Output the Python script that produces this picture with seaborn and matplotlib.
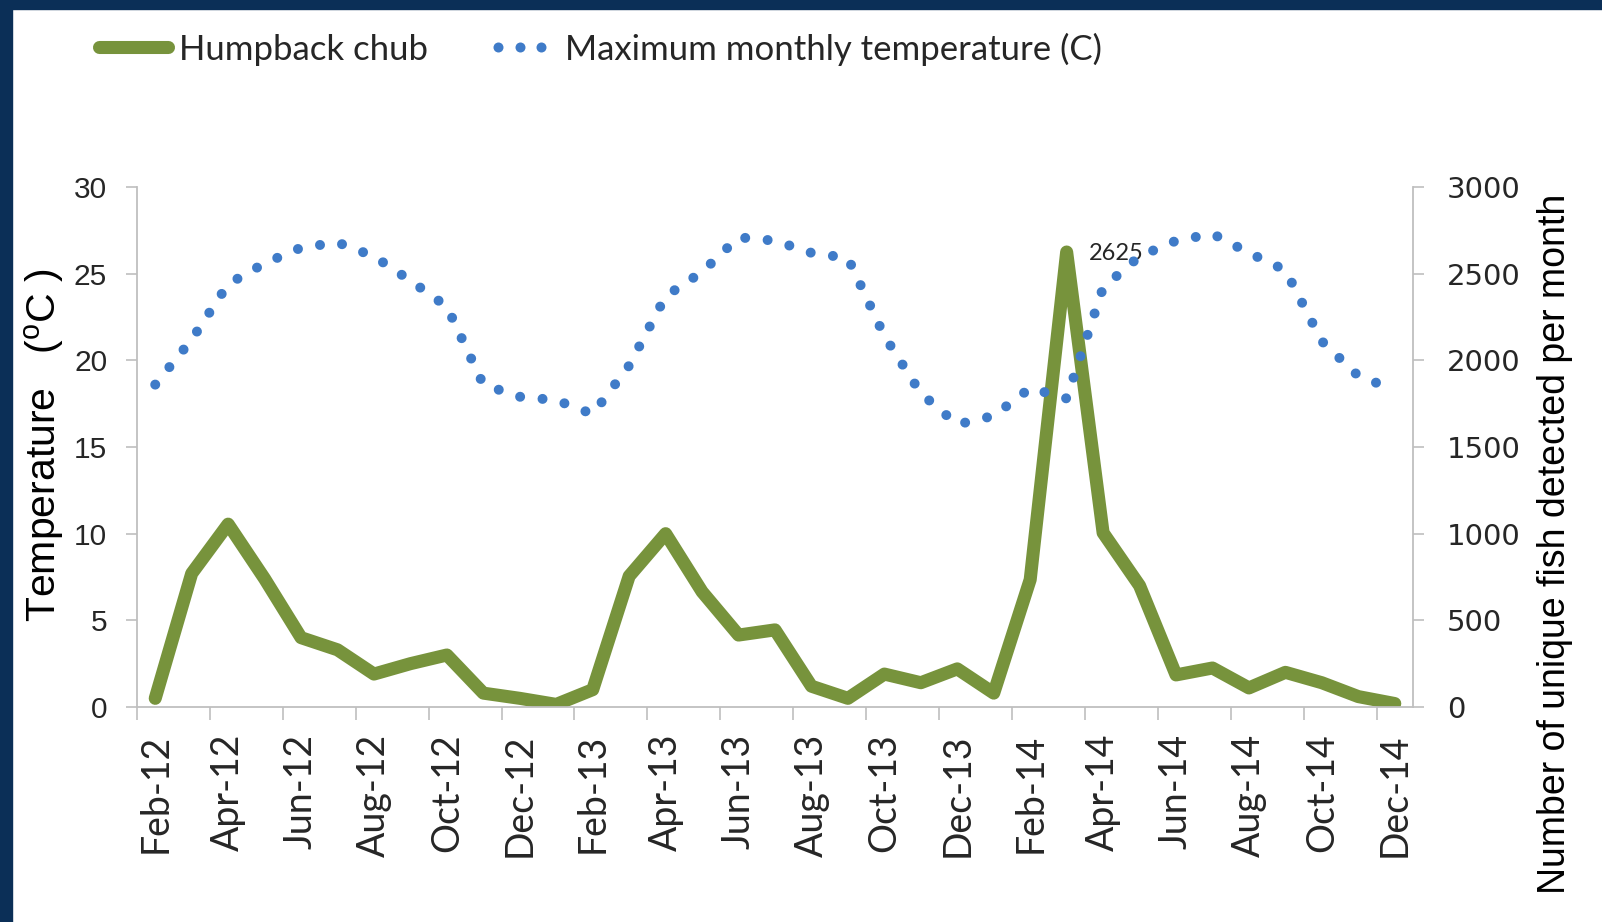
import numpy as np
import pandas as pd
import matplotlib
matplotlib.use("Agg")
import matplotlib.pyplot as plt
from matplotlib.patches import Rectangle
from matplotlib.lines import Line2D
from matplotlib.legend_handler import HandlerLine2D
import seaborn as sns

months = [
    "Feb-12", "Mar-12", "Apr-12", "May-12", "Jun-12", "Jul-12", "Aug-12",
    "Sep-12", "Oct-12", "Nov-12", "Dec-12", "Jan-13", "Feb-13", "Mar-13",
    "Apr-13", "May-13", "Jun-13", "Jul-13", "Aug-13", "Sep-13", "Oct-13",
    "Nov-13", "Dec-13", "Jan-14", "Feb-14", "Mar-14", "Apr-14", "May-14",
    "Jun-14", "Jul-14", "Aug-14", "Sep-14", "Oct-14", "Nov-14", "Dec-14",
]
# maximum monthly temperature (C), left axis
temp_max = [
    18.6, 21.2, 24.4, 25.6, 26.5, 26.8, 26.0, 24.6, 23.1, 18.6, 17.9, 17.7,
    16.9, 19.7, 23.7, 25.1, 27.1, 26.9, 26.2, 25.9, 21.4, 18.1, 16.3, 16.8,
    18.4, 17.8, 24.2, 26.0, 26.9, 27.3, 26.2, 25.2, 21.1, 19.1, 18.3,
]
# humpback chub, unique fish detected per month, right axis
chub_counts = [
    50, 770, 1055, 740, 400, 330, 190, 250, 300, 80, 50, 15,
    100, 755, 1000, 665, 415, 445, 120, 50, 190, 140, 220, 80,
    735, 2625, 1005, 700, 185, 225, 110, 200, 140, 60, 20,
]

GREEN = "#77933C"
BLUE = "#3F7BC8"
GRAY = "#BFBFBF"
NAVY = "#0B2F57"
TEXT = "#262626"

sns.set_style("white")
plt.rcParams["font.family"] = ["Liberation Sans", "DejaVu Sans"]

fig = plt.figure(figsize=(16.02, 9.22), dpi=100)
ax = fig.add_axes([137 / 1602, 1 - 707 / 922, 1276 / 1602, 520 / 922])
ax2 = ax.twinx()

x = np.arange(len(months))
df = pd.DataFrame({"month": x, "temp": temp_max, "chub": chub_counts})

sns.lineplot(data=df, x="month", y="chub", ax=ax2, color=GREEN, linewidth=9.4,
             solid_capstyle="round", solid_joinstyle="round")
sns.lineplot(data=df, x="month", y="temp", ax=ax, color=BLUE, linewidth=7.2,
             linestyle=(0, (0.001, 2.25)), dash_capstyle="round")

# temperature dots drawn above the fish line
ax.set_zorder(ax2.get_zorder() + 1)
ax.patch.set_visible(False)

ax.set_xlim(-0.5, len(months) - 0.5)
ax.set_ylim(0, 30)
ax2.set_ylim(0, 3000)

ax.set_xticks(x[::2])
ax.set_xticklabels(months[::2], rotation=90, fontfamily="Lato", fontsize=27, color=TEXT)
ax.set_xticks(np.arange(-0.5, len(months), 2), minor=True)
ax.tick_params(axis="x", which="major", bottom=True, length=0, pad=19)
ax.tick_params(axis="x", which="minor", bottom=True, length=9, width=1.2,
               color=GRAY, direction="out")

ax.set_yticks(np.arange(0, 31, 5))
ax.tick_params(axis="y", left=True, length=8, width=1.2, color=GRAY, pad=13.5,
               labelsize=21.5, labelcolor=TEXT, direction="out")
ax2.set_yticks(np.arange(0, 3001, 500))
ax2.tick_params(axis="y", right=True, length=8, width=1.2, color=GRAY, pad=16.5,
                labelsize=21, labelcolor=TEXT, direction="out")
for lab in ax2.get_yticklabels():
    lab.set_fontfamily("DejaVu Sans")

for s in ["top", "right"]:
    ax.spines[s].set_visible(False)
for s in ["left", "bottom"]:
    ax.spines[s].set_color(GRAY)
    ax.spines[s].set_linewidth(1.3)
for s in ["top", "left", "bottom"]:
    ax2.spines[s].set_visible(False)
ax2.spines["right"].set_color(GRAY)
ax2.spines["right"].set_linewidth(1.3)

ax.set_xlabel("")
ax.set_ylabel(r"Temperature   ($\mathregular{^{o}}$C )", fontsize=29.5, color="black")
ax.yaxis.set_label_coords(-0.0556, 0.504)
ax2.set_ylabel("Number of unique fish detected per month", fontsize=27, color="black")
ax2.yaxis.set_label_coords(1.097, 0.313)

# data label on the peak
i_peak = int(np.argmax(chub_counts))
ax2.annotate(str(chub_counts[i_peak]), xy=(i_peak, chub_counts[i_peak]),
             xytext=(16, -1), textcoords="offset points", ha="left", va="center",
             fontsize=17, fontfamily="Lato", color=TEXT)

# legend
h_chub = Line2D([], [], color=GREEN, lw=9.4, solid_capstyle="round")
h_temp = Line2D([], [], color=BLUE, linestyle="none", marker="o",
                markersize=7.2, markeredgewidth=0)
fig.legend(handles=[h_chub, h_temp],
           labels=["Humpback chub", "Maximum monthly temperature (C)"],
           handler_map={h_temp: HandlerLine2D(numpoints=3, marker_pad=0.375)},
           loc="center left", bbox_to_anchor=(98.5 / 1602, 1 - 49 / 922),
           ncol=2, frameon=False, borderpad=0, borderaxespad=0,
           handlelength=2.0, handletextpad=0.31, columnspacing=1.65,
           prop={"family": "Lato", "size": 25})

# dark frame on top and left
fig.add_artist(Rectangle((0, 1 - 9 / 922), 1, 9 / 922, transform=fig.transFigure,
                         color=NAVY, zorder=10))
fig.add_artist(Rectangle((0, 0), 12 / 1602, 1, transform=fig.transFigure,
                         color=NAVY, zorder=10))

fig.savefig("out.png", dpi=100)
